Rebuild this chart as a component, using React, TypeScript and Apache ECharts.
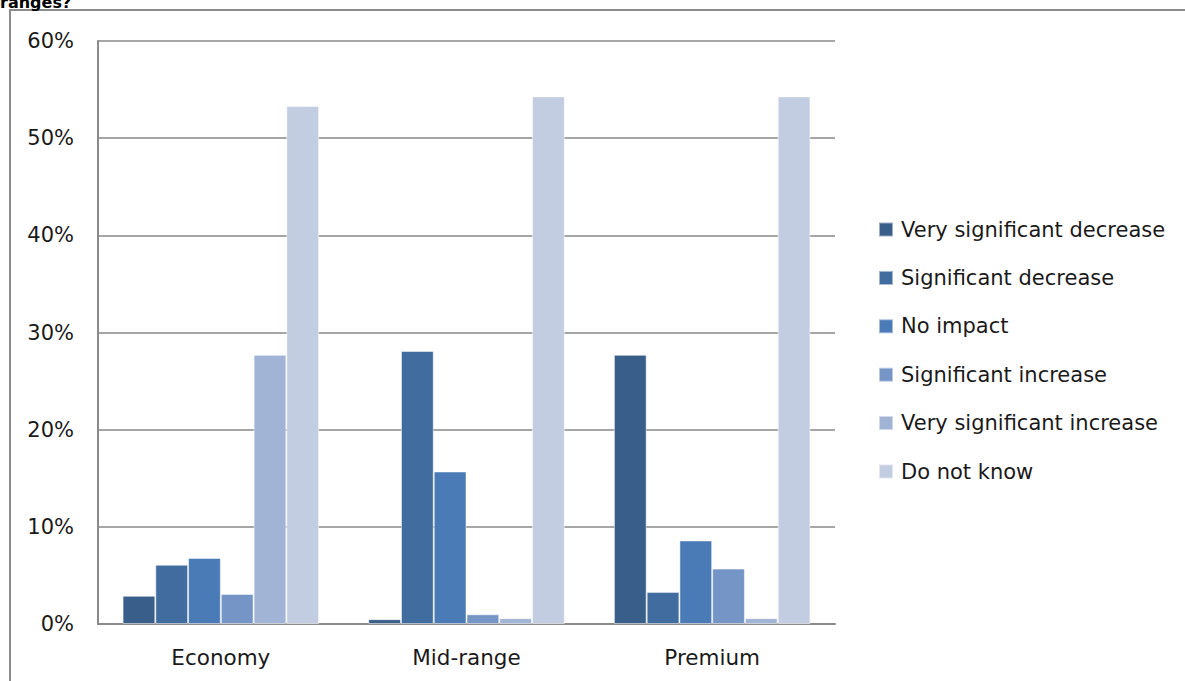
import React, { useEffect, useRef } from "react";
import * as echarts from "echarts";

const categories = ["Economy", "Mid-range", "Premium"];
const seriesNames = [
  "Very significant decrease",
  "Significant decrease",
  "No impact",
  "Significant increase",
  "Very significant increase",
  "Do not know",
];
const verySignificantDecrease = [2.9, 0.5, 27.7];
const significantDecrease = [6.1, 28.1, 3.3];
const noImpact = [6.8, 15.7, 8.6];
const significantIncrease = [3.1, 1.0, 5.7];
const verySignificantIncrease = [27.7, 0.6, 0.6];
const doNotKnow = [53.3, 54.3, 54.3];
const colors = ["#3A5E8A", "#416CA0", "#4A7BB7", "#7595C7", "#A2B4D6", "#C2CDE2"];
const titleText = "ranges?";

const FONT = "DejaVu Sans";

export default function App() {
  const ref = useRef<HTMLDivElement>(null);
  useEffect(() => {
    if (!ref.current) return;
    const chart = echarts.init(ref.current, undefined, { renderer: "svg" });
    const data = [
      verySignificantDecrease,
      significantDecrease,
      noImpact,
      significantIncrease,
      verySignificantIncrease,
      doNotKnow,
    ];
    chart.setOption({
      animation: false,
      backgroundColor: "#ffffff",
      textStyle: { fontFamily: FONT },
      graphic: [
        {
          type: "rect",
          shape: { x: 10, y: 10, width: 1200, height: 700 },
          style: { fill: "none", stroke: "#8c8c8c", lineWidth: 2 },
          silent: true,
        },
        {
          type: "text",
          x: 0,
          y: 10,
          style: {
            text: titleText,
            font: "bold 16px " + FONT,
            fill: "#000",
            verticalAlign: "bottom",
            align: "left",
          },
        },
      ],
      grid: { left: 98, right: 350, top: 41, bottom: 57, containLabel: false },
      legend: {
        orient: "vertical",
        left: 873,
        top: 214,
        itemWidth: 14,
        itemHeight: 14,
        itemGap: 27.4,
        icon: "rect",
        data: seriesNames,
        textStyle: { fontFamily: FONT, fontSize: 21, color: "#1a1a1a", padding: [0, 0, 0, 3] },
      },
      xAxis: {
        type: "category",
        data: categories,
        axisLine: { show: true, lineStyle: { color: "#8a8a8a", width: 2 } },
        axisTick: { show: false },
        axisLabel: { fontFamily: FONT, fontSize: 21.5, color: "#1a1a1a", margin: 22 },
      },
      yAxis: {
        type: "value",
        min: 0,
        max: 60,
        interval: 10,
        axisLine: { show: true, lineStyle: { color: "#8a8a8a", width: 2 } },
        axisTick: { show: false },
        splitLine: { show: true, lineStyle: { color: "#a6a6a6", width: 2 } },
        axisLabel: {
          formatter: "{value}%",
          fontFamily: FONT,
          fontSize: 21,
          color: "#1a1a1a",
          margin: 24,
        },
      },
      series: seriesNames.map((name, i) => ({
        name,
        type: "bar",
        data: data[i],
        barGap: "0%",
        barCategoryGap: "20%",
        itemStyle: { color: colors[i], borderColor: "rgba(255,255,255,0.5)", borderWidth: 1 },
      })),
    });
    return () => chart.dispose();
  }, []);
  return (
    <div
      ref={ref}
      style={{ position: "fixed", left: 0, top: 0, width: 1185, height: 681 }}
    />
  );
}
